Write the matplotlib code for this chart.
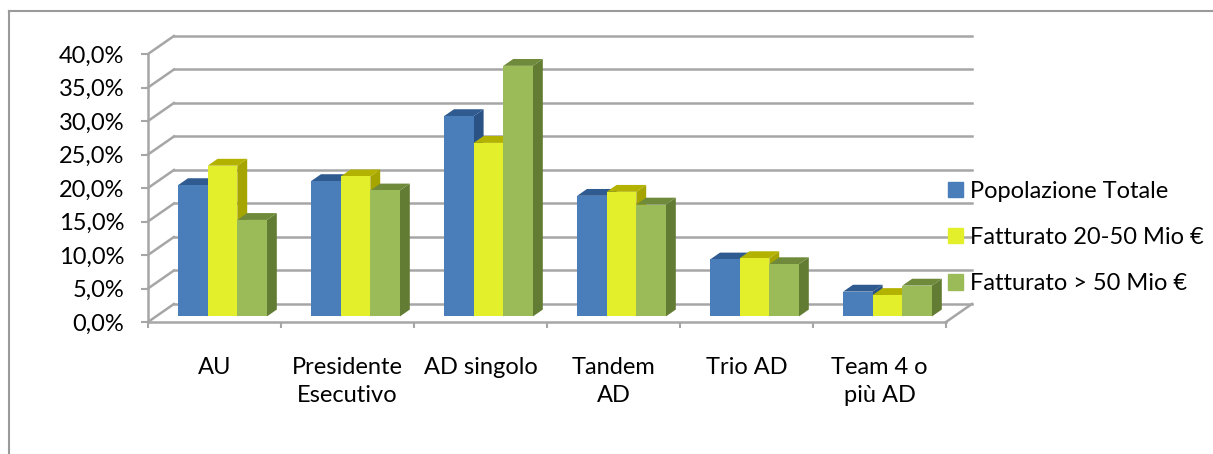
import numpy as np
import matplotlib
matplotlib.use("Agg")
import matplotlib.pyplot as plt
from matplotlib.patches import Polygon, Patch
from matplotlib.lines import Line2D

categories = ["AU", "Presidente\nEsecutivo", "AD singolo", "Tandem\nAD", "Trio AD", "Team 4 o\npiù AD"]
series_names = ["Popolazione Totale", "Fatturato 20-50 Mio €", "Fatturato > 50 Mio €"]
popolazione = [19.6, 20.2, 29.9, 18.0, 8.5, 3.7]
fatturato_20_50 = [22.5, 20.9, 25.9, 18.6, 8.7, 3.2]
fatturato_50 = [14.4, 18.8, 37.4, 16.7, 7.8, 4.6]
y_ticks = [0, 5, 10, 15, 20, 25, 30, 35, 40]

# front / top / side colours for each series
colours = [("#4a7ebb", "#2f5b90", "#2a5285"),
           ("#e4ef2c", "#b3b200", "#a6a500"),
           ("#9bbb59", "#6e8a3a", "#637c33")]
grid_col = "#a6a6a6"

plt.rcParams["font.family"] = ["Lato", "DejaVu Sans"]
fs = 17

fig = plt.figure(figsize=(12.13, 4.54), dpi=100)
ax = fig.add_axes([148 / 1213, 132 / 454, 798 / 1213, 268 / 454])
ax.set_xlim(0, len(categories))
ax.set_ylim(0, 40)

# depth of the 3D box in data units, and where the bars sit inside it
depth_x, depth_y = 0.195, 2.69
f_front, f_back = 0.31, 0.69
bar_w = 0.2226

# walls: back grid lines, side diagonals, floor
n = len(categories)
for v in y_ticks:
    ax.plot([depth_x, n + depth_x], [v + depth_y, v + depth_y], color=grid_col, lw=1.8, zorder=1, clip_on=False)
    ax.plot([0, depth_x], [v, v + depth_y], color=grid_col, lw=1.8, zorder=1, clip_on=False)
ax.plot([0, n], [0, 0], color=grid_col, lw=1.8, zorder=1, clip_on=False)
ax.plot([n, n + depth_x], [0, depth_y], color=grid_col, lw=1.8, zorder=1, clip_on=False)
ax.plot([0, 0], [0, 40], color=grid_col, lw=1.8, zorder=1, clip_on=False)

# bars with fake depth
values = [popolazione, fatturato_20_50, fatturato_50]
ox, oy = f_front * depth_x, f_front * depth_y
bx, by = (f_back - f_front) * depth_x, (f_back - f_front) * depth_y
z = 2
for i in range(n):
    for j, vals in enumerate(values):
        h = vals[i]
        x0 = i + 0.5 + ox - 1.5 * bar_w + j * bar_w
        x1 = x0 + bar_w
        front, top, side = colours[j]
        ax.add_patch(Polygon([(x1, oy), (x1 + bx, oy + by), (x1 + bx, oy + h + by), (x1, oy + h)],
                             closed=True, fc=side, ec="none", zorder=z, clip_on=False))
        ax.add_patch(Polygon([(x0, oy + h), (x0 + bx, oy + h + by), (x1 + bx, oy + h + by), (x1, oy + h)],
                             closed=True, fc=top, ec="none", zorder=z, clip_on=False))
        ax.bar(x0, h, width=bar_w, bottom=oy, align="edge", color=front, zorder=z, clip_on=False)
        z += 1

for s in ax.spines.values():
    s.set_visible(False)

ax.set_yticks(y_ticks)
ax.set_yticklabels([("%.1f%%" % v).replace(".", ",") for v in y_ticks], fontsize=fs)
ax.tick_params(axis="y", length=5, width=1.5, color=grid_col, pad=12)

ax.set_xticks(np.arange(n) + 0.5)
ax.set_xticklabels(categories, fontsize=fs, linespacing=1.4)
ax.set_xticks(np.arange(n + 1), minor=True)
ax.tick_params(axis="x", which="major", length=0, pad=25)
ax.tick_params(axis="x", which="minor", length=4.5, width=1.5, color=grid_col)

handles = [Patch(color=c[0]) for c in colours]
leg = fig.legend(handles, series_names, loc="center left", bbox_to_anchor=(948 / 1213, 216.5 / 454),
                 frameon=False, fontsize=fs, handlelength=0.63, handleheight=0.63,
                 handletextpad=0.3, labelspacing=1.07, borderpad=0, borderaxespad=0)
leg.set_zorder(50)

# outer chart border (only top and left show in the crop)
fig.add_artist(Line2D([8.5 / 1213, 8.5 / 1213], [0, 443 / 454], color="#9a9a9a", lw=1.5))
fig.add_artist(Line2D([8.5 / 1213, 1], [443 / 454, 443 / 454], color="#9a9a9a", lw=1.5))

fig.savefig("out.png", dpi=100)
